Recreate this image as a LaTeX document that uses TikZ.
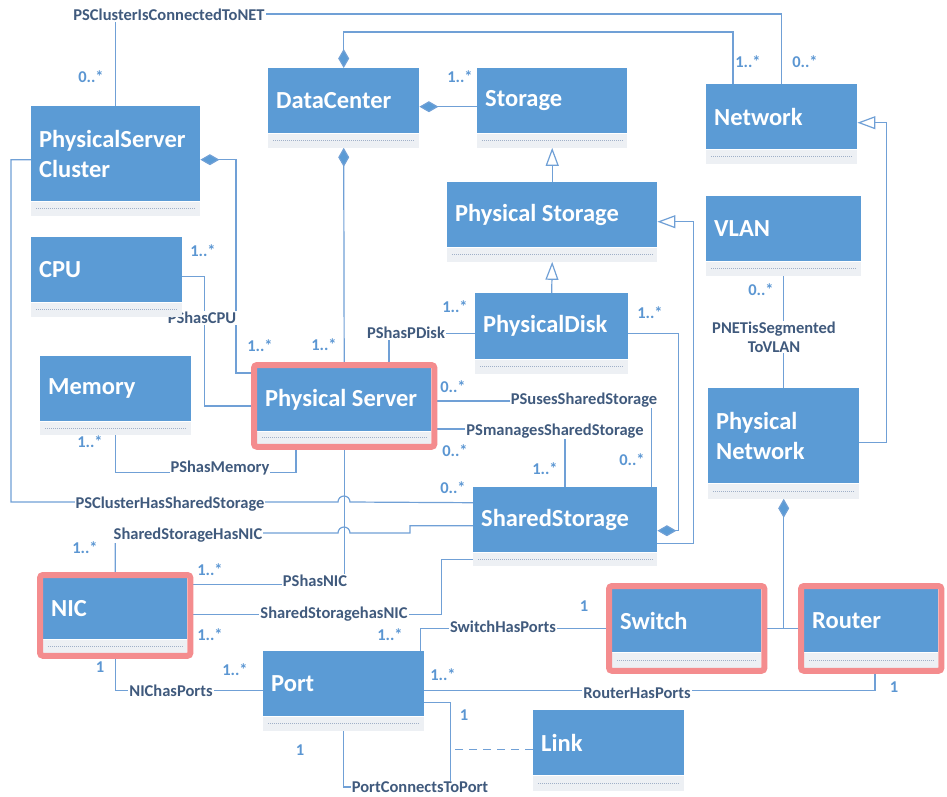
\documentclass[tikz,border=0pt]{standalone}
\usepackage{fontspec}
\setmainfont{Carlito}
\usetikzlibrary{arrows.meta,fit,backgrounds}

\definecolor{boxblue}{RGB}{91,155,213}
\definecolor{stripgrey}{RGB}{237,240,244}
\definecolor{dashgrey}{RGB}{160,176,200}
\definecolor{hlred}{RGB}{244,140,142}
\definecolor{lineblue}{RGB}{112,160,214}
\definecolor{lbltext}{RGB}{64,90,125}
\definecolor{multblue}{RGB}{91,150,210}

\tikzset{
  classbox/.style={fill=boxblue, text=white, anchor=north west, inner xsep=8pt, inner ysep=0pt,
    align=left, font=\fontsize{24.5}{30}\selectfont\bfseries},
  strip/.style={fill=stripgrey, anchor=north west, inner sep=0pt},
  stripdash/.style={dashgrey, line width=0.6pt, dash pattern=on 1pt off 1pt},
  hlbox/.style={draw=hlred, line width=6pt, inner sep=3pt, rounded corners=3pt},
  conn/.style={draw=lineblue, line width=1.2pt},
  comp/.style={conn, -{Diamond[length=19pt,width=11pt,fill=boxblue]}},
  gen/.style={conn, -{Triangle[open,length=18pt,width=13pt,fill=white]}},
  lbl/.style={fill=white, inner sep=1pt, text=lbltext, font=\fontsize{16.5}{19}\selectfont\bfseries},
  mult/.style={inner sep=0pt, text=multblue, font=\fontsize{16.5}{18}\selectfont\bfseries},
}

\begin{document}
\begin{tikzpicture}[x=1pt,y=-1pt]
        \useasboundingbox (0,0) rectangle (947,796);
        % 类
        \node[classbox, minimum width=169pt, minimum height=95pt, text width=153pt] (cl) at (31,106) {PhysicalServer\\Cluster};
        \node[classbox, minimum width=151pt, minimum height=65pt, text width=135pt] (dc) at (268,68) {DataCenter};
        \node[classbox, minimum width=150pt, minimum height=65pt, text width=134pt] (st) at (477,68) {Storage};
        \node[classbox, minimum width=151pt, minimum height=65pt, text width=135pt] (net) at (706,84) {Network};
        \node[classbox, minimum width=210pt, minimum height=65pt, text width=194pt] (pst) at (447,182) {Physical\kern5.5pt Storage};
        \node[classbox, minimum width=155pt, minimum height=65pt, text width=139pt] (vlan) at (706,196) {VLAN};
        \node[classbox, minimum width=153pt, minimum height=66pt, text width=137pt] (pd) at (475,293) {PhysicalDisk};
        \node[classbox, minimum width=151pt, minimum height=65pt, text width=135pt] (cpu) at (31,237) {CPU};
        \node[classbox, minimum width=151pt, minimum height=65pt, text width=135pt] (mem) at (40,356) {Memory};
        \node[classbox, minimum width=174pt, minimum height=63pt, text width=158pt] (ps) at (257,368) {Physical\kern5.5pt Server};
        \node[classbox, minimum width=151pt, minimum height=95pt, text width=135pt] (pn) at (708,388) {Physical\\Network};
        \node[classbox, minimum width=184pt, minimum height=65pt, text width=168pt] (ss) at (473,487) {SharedStorage};
        \node[classbox, minimum width=144pt, minimum height=61pt, text width=128pt] (nic) at (43,578) {NIC};
        \node[classbox, minimum width=161pt, minimum height=65pt, text width=145pt] (port) at (263,651) {Port};
        \node[classbox, minimum width=149pt, minimum height=63pt, text width=133pt] (sw) at (612,589) {Switch};
        \node[classbox, minimum width=134pt, minimum height=63pt, text width=118pt] (rt) at (804,589) {Router};
        \node[classbox, minimum width=151pt, minimum height=65pt, text width=135pt] (link) at (533,710) {Link};
        % 灰色属性栏
        \foreach \b/\w/\h in {cl/169/14, dc/151/14, st/150/14, net/151/14, pst/210/14, vlan/155/14,
            pd/153/14, cpu/151/14, mem/151/13, ps/174/12, pn/151/15, ss/184/13, nic/144/13,
            port/161/14, sw/149/15, rt/134/15, link/151/15}{
          \node[strip, minimum width=\w pt, minimum height=\h pt] (\b-g) at (\b.south west) {};
          \draw[stripdash] ([xshift=5pt]\b-g.west) -- ([xshift=-5pt]\b-g.east);
        }
        % 红色高亮框
        \foreach \b in {ps,nic,sw,rt}
          \node[hlbox, fit=(\b)(\b-g)] (\b-r) {};

        \begin{pgfonlayer}{background}
        % 集群连到网络
        \draw[conn] (cl.north) -- ++(0,-92) -| (net.north);
        \node[lbl] (l-cnet) at (169,15) {PSClusterIsConnectedToNET};
        % 组合关系
        \draw[comp] ([xshift=27pt]net.north west) -- ++(0,-52) -| (dc.north);
        \draw[comp] ([yshift=-6pt]st.west) -- ([yshift=-6pt]dc.east);
        \draw[comp] (ps-r.north) -- (dc-g.south);
        \draw[comp] ([yshift=33pt]ps-r.west) -- ++(-15,0) |- ([yshift=-6pt]cl.east);
        \draw[comp] ([yshift=-7pt]pd.east) -- ++(50,0) |- ([yshift=-11pt]ss.east);
        \draw[comp] (pn-g.south |- sw-r.east) -- (pn-g.south);
        \draw[conn] (sw-r.east) -- (rt-r.west);
        % 泛化关系
        \draw[gen] (pst.north) -- (st-g.south);
        \draw[gen] (pd.north) -- (pst-g.south);
        \draw[gen] ([yshift=9pt]ss.south east) -- ++(36,0) |- ([yshift=-7pt]pst.east);
        \draw[gen] ([yshift=-7pt]pn.east) -- ++(27,0) |- ([yshift=-6pt]net.east);
        % VLAN
        \draw[conn] (vlan-g.south) -- (pn.north);
        \node[lbl, align=center] (l-vlan) at (774,337) {PNETisSegmented\\ToVLAN};
        % 物理服务器的关联
        \draw[conn] ([yshift=-7pt]cpu.east) -- ++(22,0) |- (ps-r.west);
        \node[lbl] (l-cpu) at (202,318) {PShasCPU};
        \draw[conn] ([yshift=-7pt]pd.west) -| ([xshift=138pt]ps-r.north west);
        \node[lbl] (l-pdisk) at (406,333) {PShasPDisk};
        \draw[conn] ([xshift=45pt]ps-r.south west) -- ++(0,23) -| (mem-g.south);
        \node[lbl] (l-mem) at (220,468) {PShasMemory};
        \draw[conn] ([yshift=5pt]ps-r.east) -| ([xshift=-6pt]ss.north east);
        \node[lbl] (l-uses) at (584,400) {PSusesSharedStorage};
        \draw[conn] ([yshift=-23pt]ps-r.east) -| ([xshift=92pt]ss.north west);
        \node[lbl] (l-man) at (555,431) {PSmanagesSharedStorage};
        \draw[conn] ([yshift=31pt]nic-r.east) -| (ps-r.south);
        \node[lbl] (l-psnic) at (315,581) {PShasNIC};
        % 跨线
        \draw[conn] ([yshift=-6pt]cl.west) -- ++(-20,0) |- (338,502)
            arc[start angle=180, end angle=0, radius=6pt] -- ([yshift=17pt]ss.west);
        \node[lbl] (l-clss) at (170,504) {PSClusterHasSharedStorage};
        \draw[conn] (nic-r.north) |- (338,533)
            arc[start angle=180, end angle=0, radius=6pt] -- (410,533) |- ([yshift=-6pt]ss.west);
        \node[lbl] (l-ssnic) at (188,535) {SharedStorageHasNIC};
        \draw[conn] ([yshift=1pt]nic-r.east) -- ++(248,0) |- (ss-g.west);
        \node[lbl] (l-ssnic2) at (334,614) {SharedStoragehasNIC};
        % 端口
        \draw[conn] (nic-r.south) |- ([yshift=-7pt]port.west);
        \node[lbl] (l-nicp) at (171,691) {NIChasPorts};
        \draw[conn] ([xshift=-4pt]port.north east) |- (sw-r.west);
        \node[lbl] (l-swp) at (503,627) {SwitchHasPorts};
        \draw[conn] ([xshift=77pt]rt-r.south west) |- ([yshift=-7pt]port.east);
        \node[lbl] (l-rtp) at (637,693) {RouterHasPorts};
        \draw[conn] ([yshift=-19pt]port.east) -- ++(26,0) |- (port-g.south |- 0,787) -- (port-g.south);
        \node[lbl] (l-pp) at (420,787) {PortConnectsToPort};
        \draw[conn, dash pattern=on 8pt off 6pt] ([yshift=-7pt]link.west) -- ++(-83,0);
        \end{pgfonlayer}

        % 多重性
        \foreach \m/\p [count=\i] in {{0..*}/{91,77}, {1..*}/{748,62}, {0..*}/{805,62}, {1..*}/{460,77},
            {1..*}/{203,251}, {1..*}/{260,346}, {1..*}/{324,345}, {1..*}/{455,307}, {1..*}/{650,313},
            {0..*}/{453,387}, {0..*}/{632,460}, {0..*}/{455,451}, {1..*}/{545,469}, {0..*}/{453,488},
            {1..*}/{90,442}, {0..*}/{761,290}, {1..*}/{85,548}, {1..*}/{210,570}, {1..*}/{210,635},
            {1}/{100,667}, {1..*}/{235,670}, {1..*}/{390,635}, {1}/{584,606}, {1..*}/{443,675},
            {1}/{894,687}, {1}/{464,715}, {1}/{300,750}}
          \node[mult] (m\i) at (\p) {\m};
    \end{tikzpicture}
\end{document}
